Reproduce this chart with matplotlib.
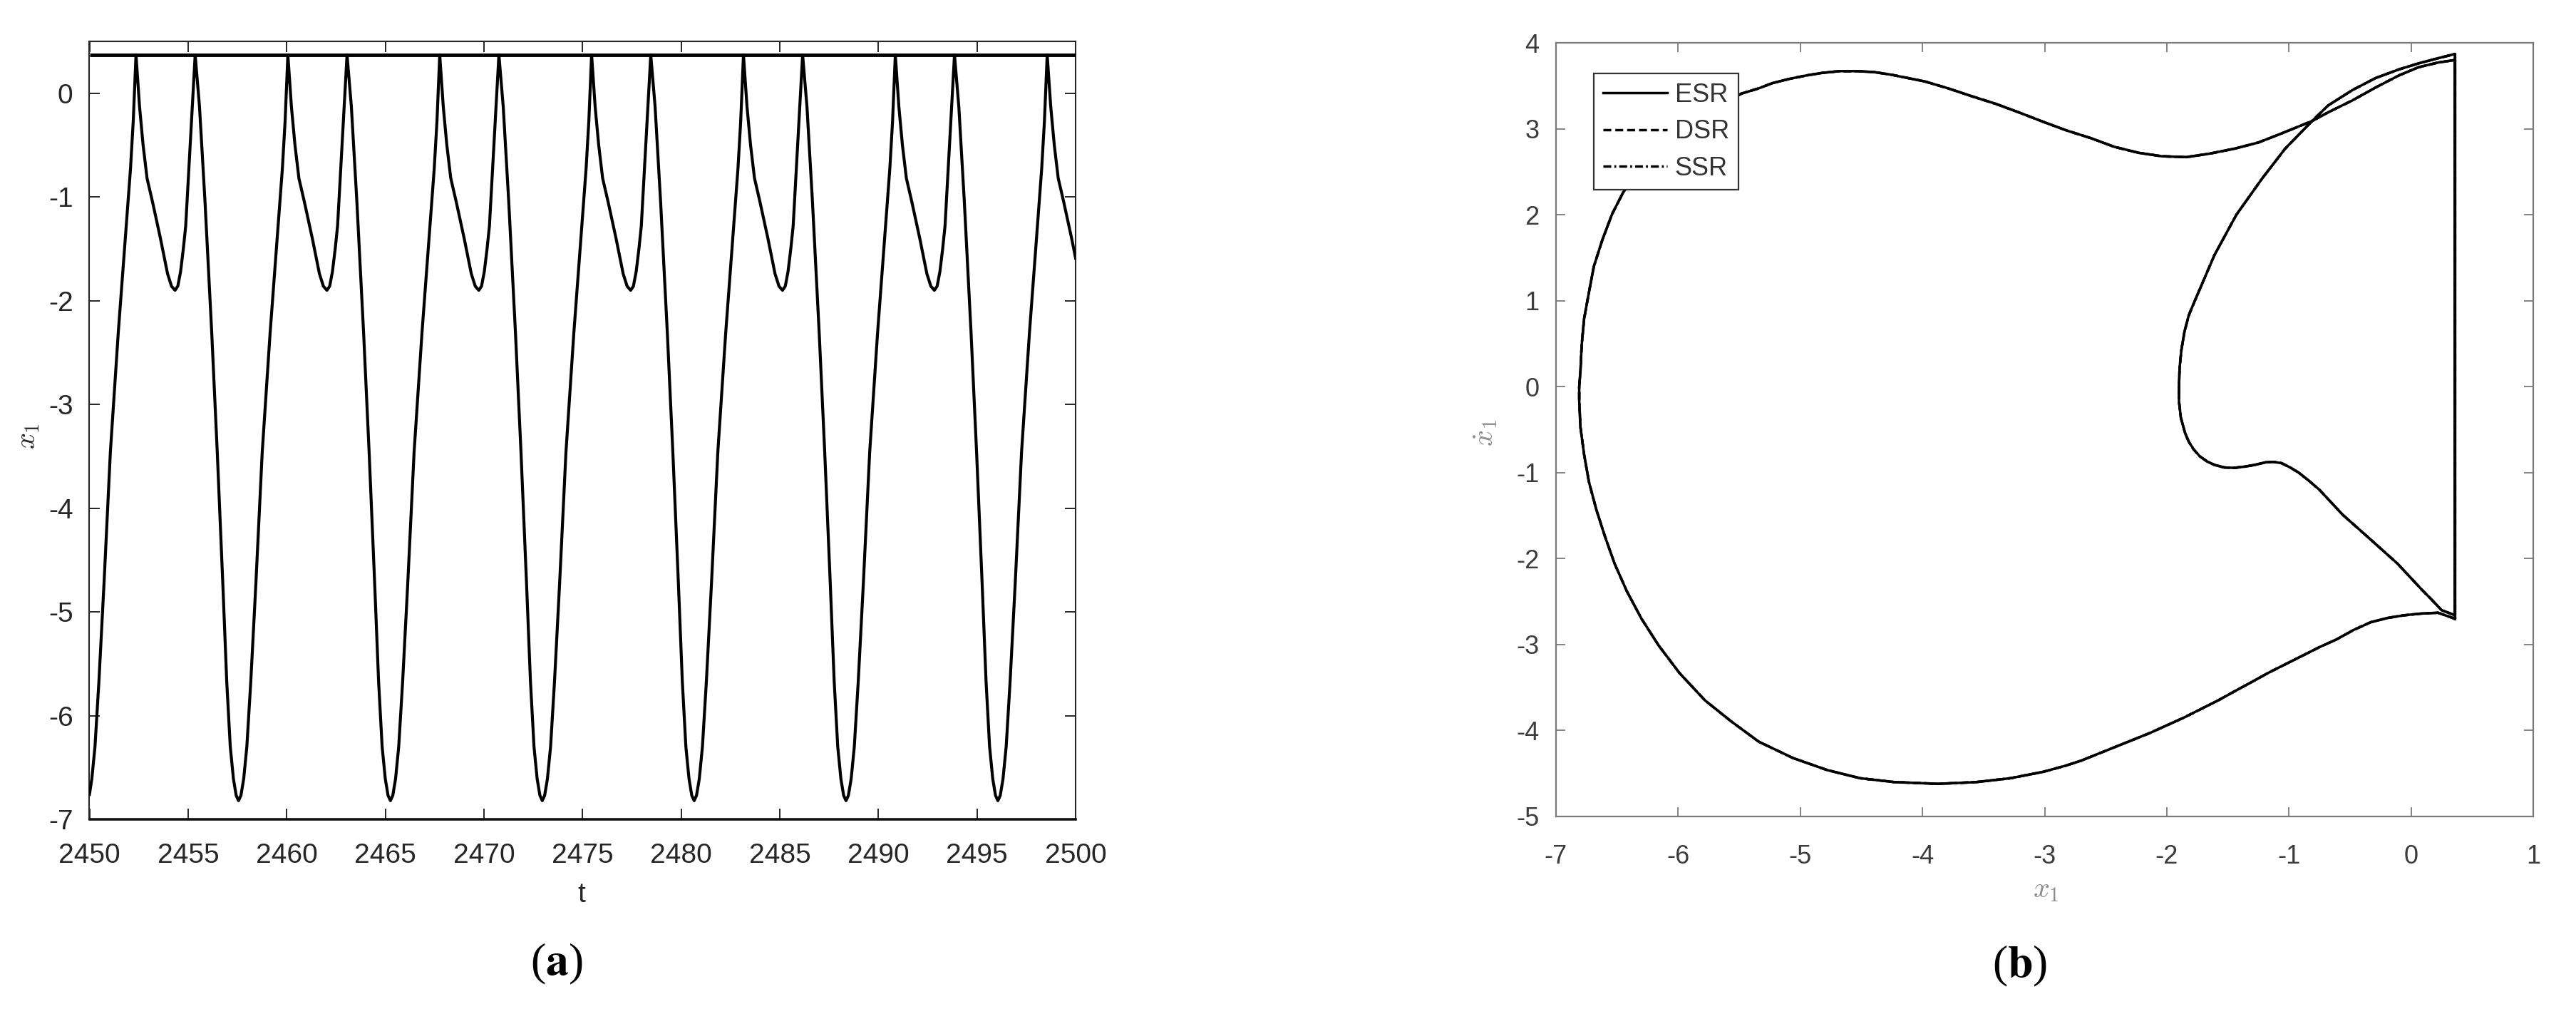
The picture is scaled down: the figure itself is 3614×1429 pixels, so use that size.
import matplotlib
matplotlib.use("Agg")
import matplotlib.pyplot as plt

# ---------------- panel (a): time series x1(t) ----------------
t_a = [
    2450.00, 2450.12, 2450.28, 2450.48, 2450.74, 2451.06, 2451.46, 2451.76, 2452.08, 2452.22,
    2452.36, 2452.54, 2452.72, 2452.92, 2453.20, 2453.60, 2453.96, 2454.16, 2454.34, 2454.48,
    2454.62, 2454.76, 2454.88, 2455.08, 2455.28, 2455.36, 2455.58, 2455.86, 2456.20, 2456.48,
    2456.76, 2456.96, 2457.14, 2457.30, 2457.44, 2457.56, 2457.68, 2457.82, 2457.98, 2458.18,
    2458.44, 2458.76, 2459.16, 2459.46, 2459.78, 2459.92,
    2460.06, 2460.24, 2460.42, 2460.62, 2460.90, 2461.30, 2461.66, 2461.86, 2462.04, 2462.18,
    2462.32, 2462.46, 2462.58, 2462.78, 2462.98, 2463.06, 2463.28, 2463.56, 2463.90, 2464.18,
    2464.46, 2464.66, 2464.84, 2465.00, 2465.14, 2465.26, 2465.38, 2465.52, 2465.68, 2465.88,
    2466.14, 2466.46, 2466.86, 2467.16, 2467.48, 2467.62,
    2467.76, 2467.94, 2468.12, 2468.32, 2468.60, 2469.00, 2469.36, 2469.56, 2469.74, 2469.88,
    2470.02, 2470.16, 2470.28, 2470.48, 2470.68, 2470.76, 2470.98, 2471.26, 2471.60, 2471.88,
    2472.16, 2472.36, 2472.54, 2472.70, 2472.84, 2472.96, 2473.08, 2473.22, 2473.38, 2473.58,
    2473.84, 2474.16, 2474.56, 2474.86, 2475.18, 2475.32,
    2475.46, 2475.64, 2475.82, 2476.02, 2476.30, 2476.70, 2477.06, 2477.26, 2477.44, 2477.58,
    2477.72, 2477.86, 2477.98, 2478.18, 2478.38, 2478.46, 2478.68, 2478.96, 2479.30, 2479.58,
    2479.86, 2480.06, 2480.24, 2480.40, 2480.54, 2480.66, 2480.78, 2480.92, 2481.08, 2481.28,
    2481.54, 2481.86, 2482.26, 2482.56, 2482.88, 2483.02,
    2483.16, 2483.34, 2483.52, 2483.72, 2484.00, 2484.40, 2484.76, 2484.96, 2485.14, 2485.28,
    2485.42, 2485.56, 2485.68, 2485.88, 2486.08, 2486.16, 2486.38, 2486.66, 2487.00, 2487.28,
    2487.56, 2487.76, 2487.94, 2488.10, 2488.24, 2488.36, 2488.48, 2488.62, 2488.78, 2488.98,
    2489.24, 2489.56, 2489.96, 2490.26, 2490.58, 2490.72,
    2490.86, 2491.04, 2491.22, 2491.42, 2491.70, 2492.10, 2492.46, 2492.66, 2492.84, 2492.98,
    2493.12, 2493.26, 2493.38, 2493.58, 2493.78, 2493.86, 2494.08, 2494.36, 2494.70, 2494.98,
    2495.26, 2495.46, 2495.64, 2495.80, 2495.94, 2496.06, 2496.18, 2496.32, 2496.48, 2496.68,
    2496.94, 2497.26, 2497.66, 2497.96, 2498.28, 2498.42,
    2498.56, 2498.74, 2498.92, 2499.12, 2499.40, 2499.80, 2500.00,
]
x1_a = [
    -6.76, -6.61, -6.30, -5.67, -4.72, -3.46, -2.31, -1.55, -0.73, -0.27,
    0.37, -0.13, -0.50, -0.82, -1.05, -1.40, -1.74, -1.86, -1.90, -1.86,
    -1.72, -1.50, -1.28, -0.59, 0.10, 0.37, -0.13, -1.05, -2.31, -3.46,
    -4.72, -5.67, -6.30, -6.61, -6.77, -6.82, -6.77, -6.61, -6.30, -5.67,
    -4.72, -3.46, -2.31, -1.55, -0.73, -0.27,
    0.37, -0.13, -0.50, -0.82, -1.05, -1.40, -1.74, -1.86, -1.90, -1.86,
    -1.72, -1.50, -1.28, -0.59, 0.10, 0.37, -0.13, -1.05, -2.31, -3.46,
    -4.72, -5.67, -6.30, -6.61, -6.77, -6.82, -6.77, -6.61, -6.30, -5.67,
    -4.72, -3.46, -2.31, -1.55, -0.73, -0.27,
    0.37, -0.13, -0.50, -0.82, -1.05, -1.40, -1.74, -1.86, -1.90, -1.86,
    -1.72, -1.50, -1.28, -0.59, 0.10, 0.37, -0.13, -1.05, -2.31, -3.46,
    -4.72, -5.67, -6.30, -6.61, -6.77, -6.82, -6.77, -6.61, -6.30, -5.67,
    -4.72, -3.46, -2.31, -1.55, -0.73, -0.27,
    0.37, -0.13, -0.50, -0.82, -1.05, -1.40, -1.74, -1.86, -1.90, -1.86,
    -1.72, -1.50, -1.28, -0.59, 0.10, 0.37, -0.13, -1.05, -2.31, -3.46,
    -4.72, -5.67, -6.30, -6.61, -6.77, -6.82, -6.77, -6.61, -6.30, -5.67,
    -4.72, -3.46, -2.31, -1.55, -0.73, -0.27,
    0.37, -0.13, -0.50, -0.82, -1.05, -1.40, -1.74, -1.86, -1.90, -1.86,
    -1.72, -1.50, -1.28, -0.59, 0.10, 0.37, -0.13, -1.05, -2.31, -3.46,
    -4.72, -5.67, -6.30, -6.61, -6.77, -6.82, -6.77, -6.61, -6.30, -5.67,
    -4.72, -3.46, -2.31, -1.55, -0.73, -0.27,
    0.37, -0.13, -0.50, -0.82, -1.05, -1.40, -1.74, -1.86, -1.90, -1.86,
    -1.72, -1.50, -1.28, -0.59, 0.10, 0.37, -0.13, -1.05, -2.31, -3.46,
    -4.72, -5.67, -6.30, -6.61, -6.77, -6.82, -6.77, -6.61, -6.30, -5.67,
    -4.72, -3.46, -2.31, -1.55, -0.73, -0.27,
    0.37, -0.13, -0.50, -0.82, -1.05, -1.40, -1.59,
]
barrier_a = 0.37
t_range_a = [2450, 2500]
x1_range_a = [-7, 0.5]
t_ticks_a = [2450, 2455, 2460, 2465, 2470, 2475, 2480, 2485, 2490, 2495, 2500]
x1_ticks_a = [0, -1, -2, -3, -4, -5, -6, -7]

# ---------------- panel (b): phase portrait (x1, dx1/dt) ----------------
# large loop (after impact, around the far left), then small loop, closed by impacts at x1 = 0.36
x1_b = [
    0.36, 0.22, 0.08, -0.06, -0.19, -0.33, -0.47, -0.61, -0.75, -0.89,
    -1.03, -1.17, -1.31, -1.44, -1.58, -1.72, -1.86, -2.00, -2.14, -2.28,
    -2.42, -2.56, -2.70, -2.83, -3.01, -3.28, -3.56, -3.87, -4.23, -4.51,
    -4.78, -5.06, -5.34, -5.56, -5.78, -5.99, -6.16, -6.30, -6.42, -6.52,
    -6.60, -6.67, -6.73, -6.77, -6.80, -6.81, -6.81, -6.80, -6.79, -6.77,
    -6.73, -6.69, -6.62, -6.54, -6.45, -6.30, -6.12, -5.90, -5.68, -5.48,
    -5.34, -5.23, -5.09, -4.95, -4.82, -4.68, -4.54, -4.40, -4.26, -4.12,
    -3.98, -3.79, -3.60, -3.40, -3.21, -3.01, -2.82, -2.62, -2.43, -2.23,
    -2.04, -1.84, -1.65, -1.44, -1.25, -1.07, -0.81, -0.68, -0.48, -0.29,
    -0.10, 0.06, 0.22, 0.36,
    0.36, 0.25, 0.17, 0.08, -0.11, -0.33, -0.56, -0.75, -0.84, -0.92,
    -0.99, -1.06, -1.13, -1.19, -1.28, -1.36, -1.45, -1.53, -1.61, -1.67,
    -1.73, -1.78, -1.82, -1.85, -1.885, -1.90, -1.90, -1.895, -1.88, -1.855,
    -1.82, -1.77, -1.61, -1.43, -1.22, -1.03, -0.81, -0.68, -0.48, -0.29,
    -0.10, 0.06, 0.22, 0.36,
    0.36,
]
dx1_b = [
    -2.70, -2.63, -2.64, -2.66, -2.69, -2.74, -2.83, -2.94, -3.03, -3.13,
    -3.23, -3.33, -3.44, -3.54, -3.65, -3.75, -3.85, -3.94, -4.03, -4.11,
    -4.19, -4.27, -4.35, -4.41, -4.48, -4.555, -4.60, -4.62, -4.60, -4.555,
    -4.46, -4.32, -4.13, -3.90, -3.65, -3.33, -3.01, -2.70, -2.38, -2.06,
    -1.74, -1.43, -1.11, -0.79, -0.47, -0.16, 0.00, 0.18, 0.48, 0.79,
    1.10, 1.40, 1.71, 2.01, 2.26, 2.55, 2.82, 3.07, 3.26, 3.41,
    3.47, 3.53, 3.58, 3.62, 3.65, 3.67, 3.67, 3.66, 3.63, 3.59,
    3.55, 3.47, 3.38, 3.29, 3.19, 3.08, 2.98, 2.89, 2.79, 2.72,
    2.68, 2.67, 2.71, 2.77, 2.84, 2.94, 3.09, 3.19, 3.33, 3.48,
    3.62, 3.715, 3.77, 3.80,
    -2.66, -2.60, -2.48, -2.35, -2.06, -1.78, -1.49, -1.20, -1.09, -1.00,
    -0.94, -0.89, -0.875, -0.88, -0.91, -0.93, -0.945, -0.94, -0.91, -0.87,
    -0.81, -0.73, -0.64, -0.54, -0.36, -0.17, 0.00, 0.22, 0.43, 0.64,
    0.83, 1.00, 1.53, 2.00, 2.42, 2.77, 3.09, 3.27, 3.45, 3.59,
    3.69, 3.76, 3.82, 3.87,
    -2.70,
]
series_b = ["ESR", "DSR", "SSR"]
styles_b = ["-", (0, (3.2, 1.6)), (0, (3.2, 1.2, 0.8, 1.2))]
x1_range_b = [-7, 1]
dx1_range_b = [-5, 4]
x1_ticks_b = [-7, -6, -5, -4, -3, -2, -1, 0, 1]
dx1_ticks_b = [-5, -4, -3, -2, -1, 0, 1, 2, 3, 4]

# ---------------- figure ----------------
W, H = 3614, 1429
fig = plt.figure(figsize=(W / 100, H / 100), dpi=100)
fig.patch.set_facecolor("white")

SANS = ["Liberation Sans", "DejaVu Sans"]
SERIF = ["Liberation Serif", "DejaVu Serif"]
DARK = "#262626"

def fx(px):
    return px / W

def fy(py):
    return 1 - py / H

# ---- (a) ----
axa = fig.add_axes([fx(125.5), fy(1149), fx(1509) - fx(125.5), fy(58) - fy(1149)])
axa.plot(t_range_a, [barrier_a, barrier_a], color="black", lw=3.5, solid_capstyle="butt", zorder=3)
axa.plot(t_a, x1_a, color="black", lw=3.0, solid_joinstyle="round", zorder=4)
axa.set_xlim(*t_range_a)
axa.set_ylim(*x1_range_a)
axa.set_xticks(t_ticks_a)
axa.set_yticks(x1_ticks_a)
axa.set_xticklabels([str(v) for v in t_ticks_a])
axa.set_yticklabels([str(v) for v in x1_ticks_a])
axa.tick_params(axis="both", direction="in", top=True, right=True, length=10.8, width=1.4,
                color=DARK, labelcolor=DARK, labelsize=28)
axa.tick_params(axis="x", pad=24)
axa.tick_params(axis="y", pad=16.5)
for lab in axa.get_xticklabels() + axa.get_yticklabels():
    lab.set_family(SANS)
for side in ["top", "left", "right"]:
    axa.spines[side].set_color(DARK)
    axa.spines[side].set_linewidth(1.5)
axa.spines["bottom"].set_color("#111111")
axa.spines["bottom"].set_linewidth(2.6)
axa.set_facecolor("white")

fig.text(fx(816), fy(1265), "t", ha="center", va="baseline", fontsize=28, color=DARK, family=SANS)
fig.text(fx(38), fy(612), r"$x_1$", ha="center", va="center", rotation=90, fontsize=29,
         color=DARK, math_fontfamily="cm")
fig.text(fx(781), fy(1352), r"($\mathbf{a}$)", ha="center", va="center", fontsize=46,
         color="black", family=SERIF, math_fontfamily="stix")

# ---- (b) ----
GRAY_SP = "#7a7a7a"
GRAY_TX = "#3c3c3c"
axb = fig.add_axes([fx(2183), fy(1145), fx(3554) - fx(2183), fy(60) - fy(1145)])
for name, ls in zip(series_b, styles_b):
    axb.plot(x1_b, dx1_b, color="black", lw=2.5, linestyle=ls, label=name,
             solid_joinstyle="round", dash_capstyle="butt")
axb.set_xlim(*x1_range_b)
axb.set_ylim(*dx1_range_b)
axb.set_xticks(x1_ticks_b)
axb.set_yticks(dx1_ticks_b)
axb.set_xticklabels([str(v) for v in x1_ticks_b])
axb.set_yticklabels([str(v) for v in dx1_ticks_b])
axb.tick_params(axis="both", direction="in", top=True, right=True, length=9.5, width=1.3,
                color=GRAY_SP, labelcolor=GRAY_TX, labelsize=26)
axb.tick_params(axis="x", pad=28)
axb.tick_params(axis="y", pad=17)
for lab in axb.get_xticklabels() + axb.get_yticklabels():
    lab.set_family(SANS)
for side in ["top", "left", "right", "bottom"]:
    axb.spines[side].set_color(GRAY_SP)
    axb.spines[side].set_linewidth(1.6)

leg = axb.legend(loc="upper left", bbox_to_anchor=(0.0387, 0.960), prop={"family": SANS, "size": 26},
                 frameon=True, fancybox=False, framealpha=1.0, edgecolor="#333333",
                 handlelength=2.5, handletextpad=0.3, borderpad=0.35, labelspacing=0.45,
                 borderaxespad=0.0)
leg.get_frame().set_linewidth(1.6)
for txt in leg.get_texts():
    txt.set_color("#333333")

fig.text(fx(2870), fy(1258), r"$x_1$", ha="center", va="baseline", fontsize=29,
         color="#8a8a8a", math_fontfamily="cm")
fig.text(fx(2083), fy(607), r"$\dot{x}_1$", ha="center", va="center", rotation=90, fontsize=29,
         color="#8a8a8a", math_fontfamily="cm")
fig.text(fx(2834), fy(1355), r"($\mathbf{b}$)", ha="center", va="center", fontsize=46,
         color="black", family=SERIF, math_fontfamily="stix")

fig.savefig("out.png", dpi=100, facecolor="white")
